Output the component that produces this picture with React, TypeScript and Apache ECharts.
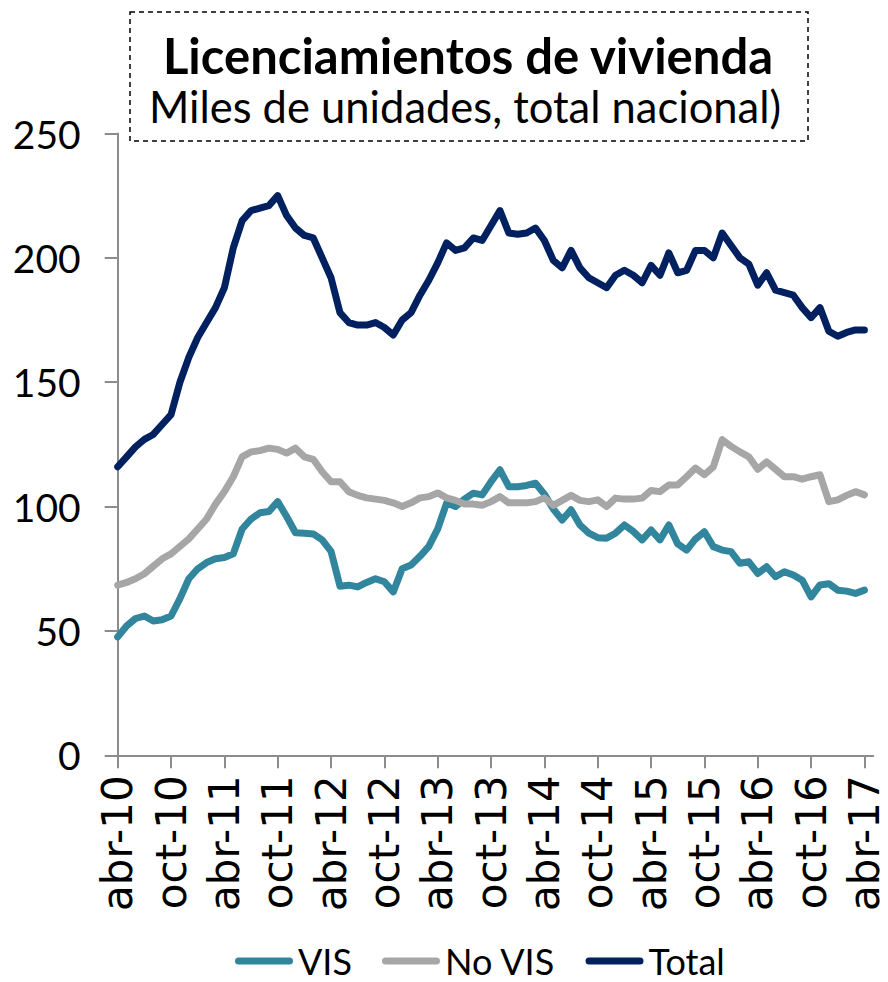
import React, { useEffect, useRef } from 'react';
import * as echarts from 'echarts';

const monthNames = ['ene', 'feb', 'mar', 'abr', 'may', 'jun', 'jul', 'ago', 'sep', 'oct', 'nov', 'dic'];
// abr-10 ... may-17 (86 monthly categories)
const categories: string[] = [];
for (let k = 0; k < 86; k++) {
  const m = (3 + k) % 12;
  const y = 10 + Math.floor((3 + k) / 12);
  categories.push(`${monthNames[m]}-${y}`);
}

const seriesNames = ['VIS', 'No VIS', 'Total'];

const vis = [
  47.6, 52, 55, 56, 54, 54.5, 56, 63, 71, 75,
  77.5, 79, 79.5, 81, 91, 95, 97.5, 98, 102, 96,
  89.5, 89.3, 89, 86.6, 82, 68, 68.4, 67.7, 69.5, 71,
  69.8, 65.7, 75, 76.5, 80, 84, 91, 101.4, 100, 103,
  105.4, 104.7, 110, 114.8, 108, 108, 108.5, 109.4, 105, 99,
  94.6, 98.7, 92.6, 89.3, 87.5, 87.3, 89.3, 92.6, 90, 86.6,
  90.6, 86.6, 92.6, 85, 82.5, 87, 89.9, 83.9, 82.5, 81.9,
  77.2, 77.8, 73.1, 75.8, 71.8, 73.8, 72.5, 70.4, 63.7, 68.5,
  69, 66.4, 66, 65.1, 66.4,
];

const noVis = [
  68.4, 69.5, 71, 73, 76, 79, 81, 84, 87, 91,
  95, 101, 106, 112, 120, 122, 122.5, 123.5, 123, 121.5,
  123.5, 120, 119, 114, 110, 110, 106, 104.5, 103.5, 103,
  102.5, 101.5, 100, 101.5, 103.5, 104, 105.5, 103.5, 102.5, 101,
  101, 100.5, 102, 104, 101.5, 101.5, 101.5, 102, 103.5, 100.5,
  102.5, 104.5, 102.5, 102, 102.7, 100, 103.4, 103, 103, 103.4,
  106.5, 106, 108.7, 108.7, 112, 115.5, 112.8, 116, 126.9, 124.2,
  122, 120, 115, 118, 115, 112, 112, 111, 112, 112.8,
  102, 102.7, 104.5, 106, 104.7,
];

const total = [
  116, 120, 124, 127, 129, 133, 137, 150, 160, 168,
  174, 180, 188, 204, 215, 219, 220, 221, 225, 217,
  212, 209, 208, 200, 192, 178, 174, 173, 173, 174,
  172, 169, 175, 178, 185, 191, 198, 206, 203, 204,
  208, 207, 213, 219, 210, 209.5, 210, 212, 207, 199,
  196, 203, 196, 192, 190, 188, 193, 195, 193, 190,
  197, 193, 202, 194, 195, 203, 203, 200, 210, 205,
  200, 197.5, 189, 194, 187, 186, 185, 180, 176, 180,
  170.5, 168.5, 170, 171, 171,
];

const colors = ['#31859C', '#A6A6A6', '#002060'];
const titleText = 'Licenciamientos de vivienda';
const subtitleText = 'Miles de unidades, total nacional)';

const capsule = 'path://M3.5,0 L54.5,0 A3.5,3.5 0 0 1 54.5,7 L3.5,7 A3.5,3.5 0 0 1 3.5,0 Z';

export default function App() {
  const ref = useRef<HTMLDivElement>(null);
  useEffect(() => {
    const chart = echarts.init(ref.current!, null, { renderer: 'svg' });
    const axisColor = '#8C8C8C';
    const mkSeries = (name: string, data: number[], color: string) => ({
      name,
      type: 'line',
      data,
      symbol: 'none',
      smooth: false,
      lineStyle: { width: 7, color, cap: 'round', join: 'round' },
      itemStyle: { color },
    });
    chart.setOption({
      animation: false,
      backgroundColor: '#ffffff',
      grid: { left: 117.7, right: 14.7, top: 133.5, bottom: 226.7, containLabel: false },
      xAxis: {
        type: 'category',
        data: categories,
        boundaryGap: false,
        axisLine: { show: true, lineStyle: { color: axisColor, width: 2 } },
        axisTick: { show: true, interval: 5, length: 13, lineStyle: { color: axisColor, width: 2 } },
        axisLabel: {
          interval: 5,
          rotate: 90,
          margin: 20,
          color: '#000',
          fontFamily: 'DejaVu Sans',
          fontSize: 42,
        },
        splitLine: { show: false },
      },
      yAxis: {
        type: 'value',
        min: 0,
        max: 250,
        interval: 50,
        axisLine: { show: true, lineStyle: { color: axisColor, width: 2 } },
        axisTick: { show: true, length: 13, lineStyle: { color: axisColor, width: 2 } },
        axisLabel: { margin: 37, color: '#000', fontFamily: 'Lato', fontSize: 39 },
        splitLine: { show: false },
      },
      legend: {
        data: seriesNames.map((n) => ({ name: n, icon: capsule })),
        left: 230,
        top: 938,
        itemWidth: 58,
        itemHeight: 7,
        itemGap: 30,
        textStyle: { fontFamily: 'Lato', fontSize: 36, color: '#000', lineHeight: 36 },
      },
      graphic: [
        {
          type: 'rect',
          z: 10,
          shape: { x: 130, y: 12, width: 678, height: 129 },
          style: { fill: '#ffffff', stroke: '#000000', lineWidth: 1.5, lineDash: [5, 4] },
        },
        {
          type: 'text',
          z: 11,
          x: 468,
          y: 55,
          style: {
            text: titleText,
            fill: '#000',
            font: 'bold 49px Lato',
            lineHeight: 42,
            textAlign: 'center',
            textVerticalAlign: 'middle',
          },
        },
        {
          type: 'text',
          z: 11,
          x: 465,
          y: 106,
          style: {
            text: subtitleText,
            fill: '#000',
            font: '43.5px Lato',
            lineHeight: 38,
            textAlign: 'center',
            textVerticalAlign: 'middle',
          },
        },
      ],
      series: [
        mkSeries(seriesNames[0], vis, colors[0]),
        mkSeries(seriesNames[1], noVis, colors[1]),
        mkSeries(seriesNames[2], total, colors[2]),
      ],
    });
    return () => chart.dispose();
  }, []);
  return (
    <div
      ref={ref}
      style={{ position: 'fixed', left: 0, top: 0, width: 888, height: 982, background: '#fff' }}
    />
  );
}
